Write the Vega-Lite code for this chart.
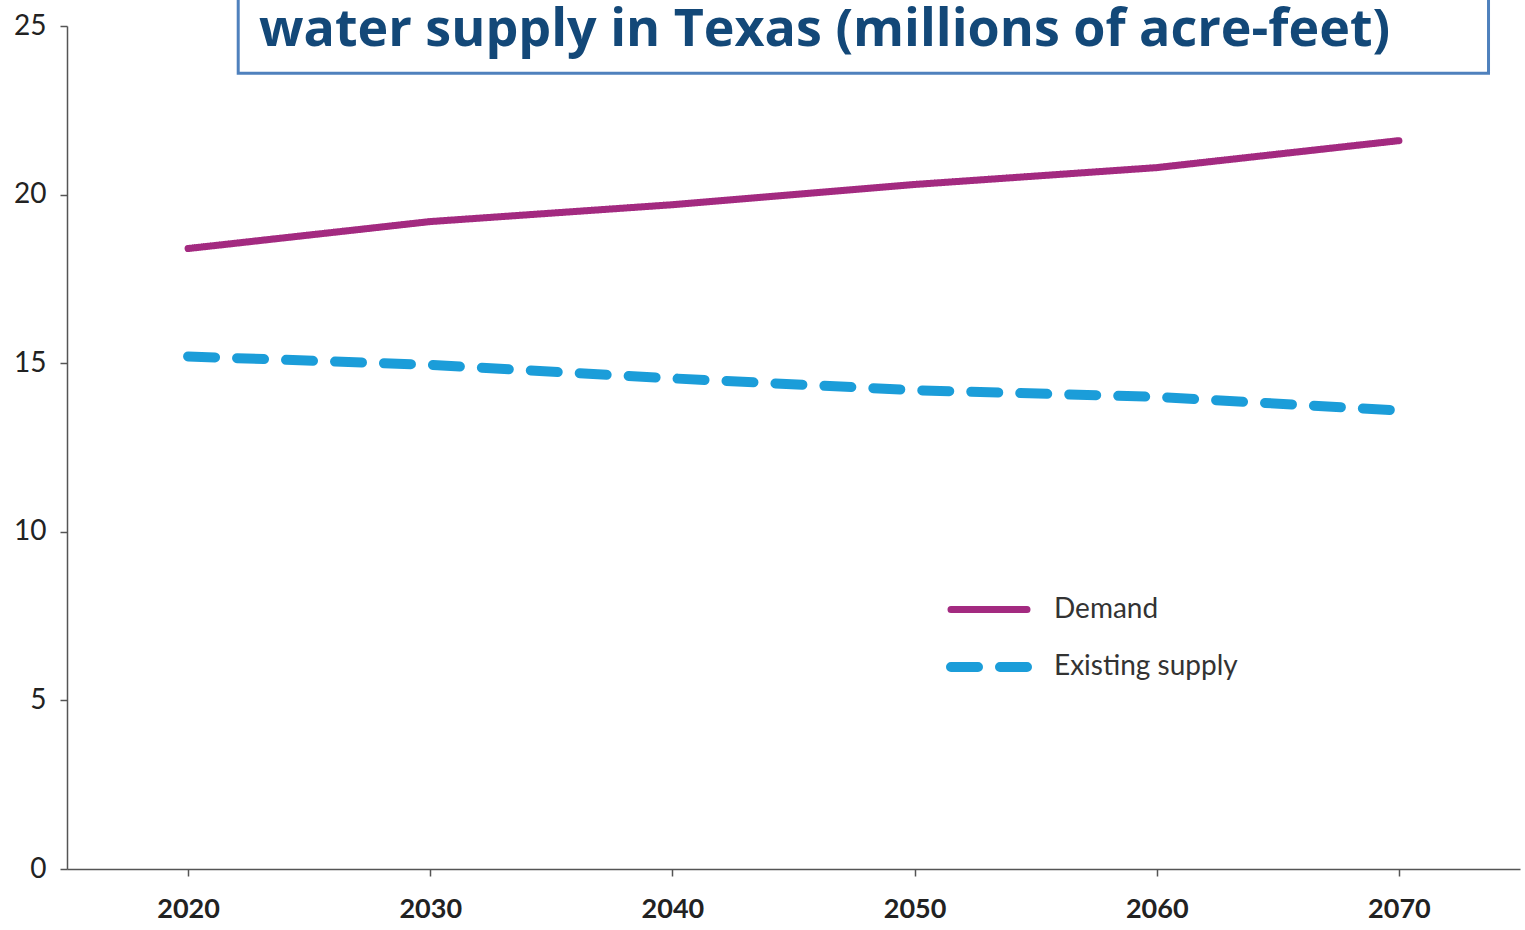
{
  "$schema": "https://vega.github.io/schema/vega-lite/v6.json",
  "width": 1453,
  "height": 843,
  "autosize": {"type": "none"},
  "padding": {"left": 67, "top": 26, "right": 5, "bottom": 61},
  "background": "white",
  "config": {"view": {"stroke": null}, "font": "Lato"},
  "datasets": {
    "series": [
      {"year": 2020, "value": 18.4, "series": "Demand"},
      {"year": 2030, "value": 19.2, "series": "Demand"},
      {"year": 2040, "value": 19.7, "series": "Demand"},
      {"year": 2050, "value": 20.3, "series": "Demand"},
      {"year": 2060, "value": 20.8, "series": "Demand"},
      {"year": 2070, "value": 21.6, "series": "Demand"},
      {"year": 2020, "value": 15.2, "series": "Existing supply"},
      {"year": 2030, "value": 14.95, "series": "Existing supply"},
      {"year": 2040, "value": 14.55, "series": "Existing supply"},
      {"year": 2050, "value": 14.2, "series": "Existing supply"},
      {"year": 2060, "value": 14.0, "series": "Existing supply"},
      {"year": 2070, "value": 13.6, "series": "Existing supply"}
    ],
    "titlebox": [
      {"label": "water supply in Texas (millions of acre-feet)"}
    ]
  },
  "layer": [
    {
      "data": {"name": "series"},
      "mark": {"type": "line", "strokeCap": "round", "strokeJoin": "round"},
      "encoding": {
        "x": {
          "field": "year", "type": "quantitative",
          "scale": {"domain": [2015, 2075], "nice": false, "zero": false},
          "axis": {
            "values": [2020, 2030, 2040, 2050, 2060, 2070], "format": "d", "title": null,
            "grid": false, "domainColor": "#555", "domainWidth": 1.5, "tickColor": "#555",
            "tickSize": 7, "tickWidth": 1.5, "labelFontSize": 27, "labelFontWeight": "bold",
            "labelColor": "#222", "labelPadding": 20
          }
        },
        "y": {
          "field": "value", "type": "quantitative",
          "scale": {"domain": [0, 25], "nice": false},
          "axis": {
            "values": [0, 5, 10, 15, 20, 25], "title": null, "grid": false,
            "domainColor": "#555", "domainWidth": 1.5, "tickColor": "#555",
            "tickSize": 7, "tickWidth": 1.5, "labelFontSize": 28, "labelColor": "#222",
            "labelPadding": 14
          }
        },
        "color": {
          "field": "series", "type": "nominal",
          "scale": {"domain": ["Demand", "Existing supply"], "range": ["#a32a80", "#1b9dd9"]},
          "legend": {
            "title": null, "orient": "none", "legendX": 879, "legendY": 542, "padding": 0,
            "symbolType": "stroke", "symbolSize": 5776, "symbolStrokeWidth": 9,
            "labelFontSize": 28, "labelColor": "#333", "labelOffset": 22, "labelLimit": 500,
            "rowPadding": -18, "labelFont": "Lato",
            "encode": {"symbols": {"update": {"strokeCap": {"value": "round"}}}}
          }
        },
        "strokeDash": {
          "field": "series", "type": "nominal",
          "scale": {"domain": ["Demand", "Existing supply"], "range": [[1, 0], [27, 22]]},
          "legend": {
            "title": null, "orient": "none", "legendX": 879, "legendY": 542, "padding": 0,
            "symbolType": "stroke", "symbolSize": 5776, "symbolStrokeWidth": 9,
            "labelFontSize": 28, "labelColor": "#333", "labelOffset": 22, "labelLimit": 500,
            "rowPadding": -18, "labelFont": "Lato",
            "encode": {"symbols": {"update": {"strokeCap": {"value": "round"}}}}
          }
        },
        "strokeWidth": {
          "field": "series", "type": "nominal",
          "scale": {"domain": ["Demand", "Existing supply"], "range": [7, 10]},
          "legend": null
        }
      }
    },
    {
      "data": {"name": "titlebox"},
      "mark": {"type": "rect", "fill": "white", "stroke": "#4f81bd", "strokeWidth": 3, "clip": false},
      "encoding": {
        "x": {"datum": 2022.07},
        "x2": {"datum": 2073.7},
        "y": {"datum": 23.6},
        "y2": {"datum": 27.5}
      }
    },
    {
      "data": {"name": "titlebox"},
      "mark": {"type": "text", "align": "left", "baseline": "alphabetic", "font": "Open Sans", "fontWeight": "bold", "fontSize": 52, "color": "#134878"},
      "encoding": {
        "text": {"field": "label"},
        "x": {"datum": 2022.93},
        "y": {"datum": 24.4}
      }
    }
  ]
}
